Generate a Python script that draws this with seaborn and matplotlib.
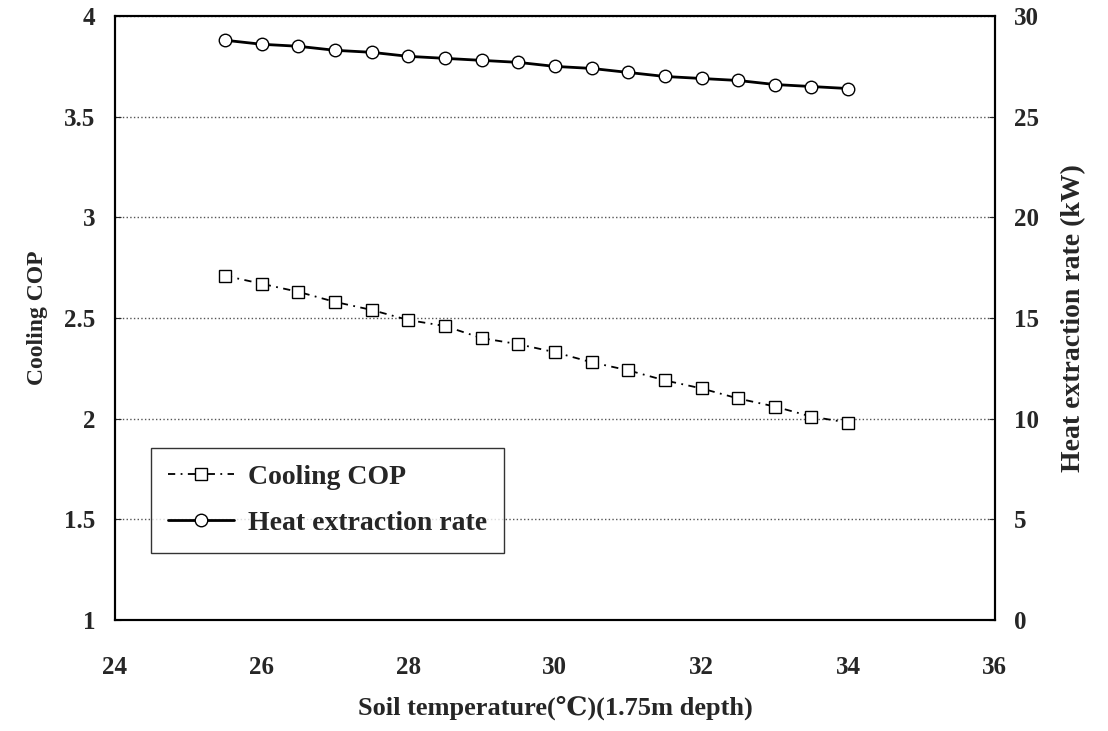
import numpy as np
import pandas as pd
import matplotlib
matplotlib.use("Agg")
import matplotlib.pyplot as plt
import seaborn as sns

### data
soil_temp = [25.5, 26.0, 26.5, 27.0, 27.5, 28.0, 28.5, 29.0, 29.5,
             30.0, 30.5, 31.0, 31.5, 32.0, 32.5, 33.0, 33.5, 34.0]
cooling_cop = [2.71, 2.67, 2.63, 2.58, 2.54, 2.49, 2.46, 2.40, 2.37,
               2.33, 2.28, 2.24, 2.19, 2.15, 2.10, 2.06, 2.01, 1.98]
heat_rate = [28.8, 28.6, 28.5, 28.3, 28.2, 28.0, 27.9, 27.8, 27.7,
             27.5, 27.4, 27.2, 27.0, 26.9, 26.8, 26.6, 26.5, 26.4]

df = pd.DataFrame({'T': soil_temp, 'COP': cooling_cop, 'Q': heat_rate})

### style
sns.set_style("white")
plt.rcParams['font.family'] = ['Liberation Serif', 'DejaVu Serif']
plt.rcParams['font.weight'] = 'bold'
plt.rcParams['axes.labelweight'] = 'bold'

fig = plt.figure(figsize=(11.08, 7.31), dpi=100)
ax = fig.add_axes([0.1038, 0.152, 0.794, 0.826])
ax2 = ax.twinx()

### cooling COP on left axis
sns.lineplot(data=df, x='T', y='COP', ax=ax, color='black', lw=1.3,
             linestyle=(0, (4, 3, 1, 3)), marker='s', markersize=8,
             markerfacecolor='white', markeredgecolor='black',
             markeredgewidth=1.0, label='Cooling COP', legend=False)

### heat extraction rate on right axis
sns.lineplot(data=df, x='T', y='Q', ax=ax2, color='black', lw=2.0,
             marker='o', markersize=9, markerfacecolor='white',
             markeredgecolor='black', markeredgewidth=1.0,
             label='Heat extraction rate', legend=False)

ax.set_xlim(24, 36)
ax.set_ylim(1, 4)
ax2.set_ylim(0, 30)
ax.set_xticks(np.arange(24, 37, 2))
ax.set_yticks([1, 1.5, 2, 2.5, 3, 3.5, 4])
ax.set_yticklabels(['1', '1.5', '2', '2.5', '3', '3.5', '4'])
ax2.set_yticks(np.arange(0, 31, 5))

ax.yaxis.grid(True, linestyle=':', color='#555555', lw=1.0)
for a in (ax, ax2):
    for s in a.spines.values():
        s.set_color('black')
        s.set_linewidth(1.5)
ax.tick_params(axis='y', labelsize=18, length=4, direction='in', pad=14)
ax.tick_params(axis='x', labelsize=18, length=4, direction='in', pad=26)
ax2.tick_params(axis='y', labelsize=18, length=4, direction='in', pad=14)

ax.set_xlabel('Soil temperature(\u2103)(1.75m depth)', fontsize=19, labelpad=12)
ax.set_ylabel('Cooling COP', fontsize=17, labelpad=12)
ax2.set_ylabel('Heat extraction rate (kW)', fontsize=20, labelpad=16)

### legend
h1, l1 = ax.get_legend_handles_labels()
h2, l2 = ax2.get_legend_handles_labels()
leg = ax2.legend(h1 + h2, l1 + l2, loc='upper left', bbox_to_anchor=(0.041, 0.285),
                 borderaxespad=0, fontsize=20, frameon=True, fancybox=False,
                 edgecolor='black', handlelength=2.4, labelspacing=0.75,
                 borderpad=0.6, handletextpad=0.5)
leg.get_frame().set_linewidth(1.0)

fig.savefig('out.png', dpi=100)
